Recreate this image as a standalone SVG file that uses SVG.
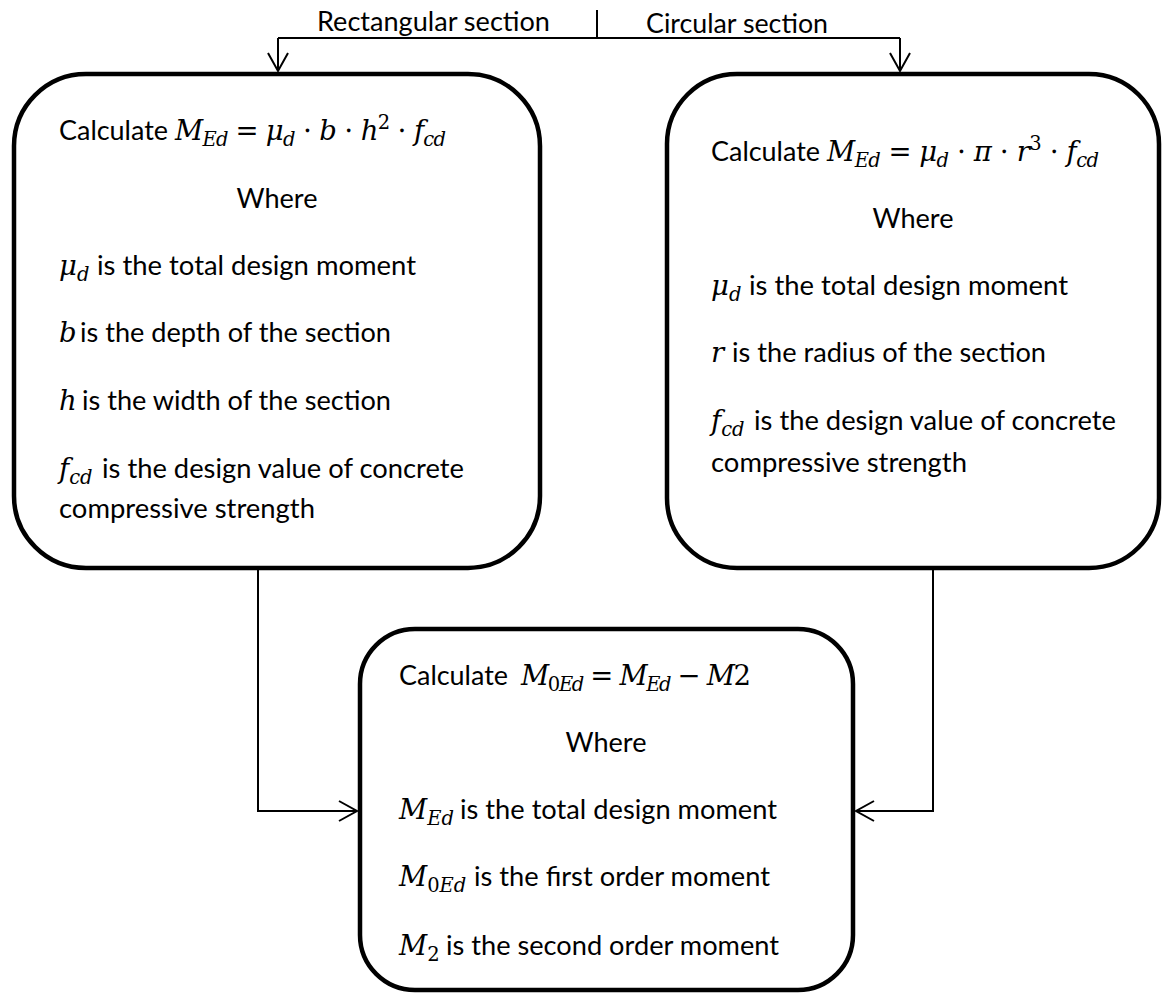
<svg xmlns="http://www.w3.org/2000/svg" width="1163" height="994" viewBox="0 0 1163 994">
  <style>
    .box { fill: #ffffff; stroke: #000000; stroke-width: 4.5; }
    .wire { fill: none; stroke: #000000; stroke-width: 2; }
    .t { font-family: Lato, "Liberation Sans", sans-serif; font-size: 27px; fill: #000000; }
    .m { font-family: "DejaVu Serif", "Liberation Serif", serif; font-style: italic; font-size: 27.5px; fill: #000000; }
    .u { font-style: normal; }
    .s { font-size: 19.5px; }
  </style>
  <defs>
    <marker id="open-arrow" markerUnits="userSpaceOnUse" markerWidth="22" markerHeight="24" refX="19" refY="11" orient="auto">
      <path d="M1,1 L19,11 L1,21" fill="none" stroke="#000000" stroke-width="2"/>
    </marker>
  </defs>

  <rect width="1163" height="994" fill="#ffffff"/>

  <!-- connectors -->
  <g id="connectors">
    <path class="wire" d="M597,10 V38"/>
    <path class="wire" d="M278,38 H900"/>
    <path class="wire" d="M278,38 V71" marker-end="url(#open-arrow)"/>
    <path class="wire" d="M900,38 V71" marker-end="url(#open-arrow)"/>
    <path class="wire" d="M258,568 V811 H357" marker-end="url(#open-arrow)"/>
    <path class="wire" d="M933,568 V811 H856" marker-end="url(#open-arrow)"/>
    <text class="t" x="317" y="31" textLength="233" lengthAdjust="spacingAndGlyphs">Rectangular section</text>
    <text class="t" x="646" y="33" textLength="182" lengthAdjust="spacingAndGlyphs">Circular section</text>
  </g>

  <!-- rectangular section -->
  <g id="node-rectangular">
    <rect class="box" x="14" y="74" width="526" height="494" rx="72" ry="72"/>
    <text class="t" x="59" y="140" textLength="109" lengthAdjust="spacingAndGlyphs">Calculate</text>
    <text class="m" x="175" y="140" textLength="271" lengthAdjust="spacing">M<tspan class="s" dy="6">Ed</tspan><tspan class="u" dy="-6"> = </tspan>μ<tspan class="s" dy="6">d</tspan><tspan class="u" dy="-6"> ⋅ </tspan>b<tspan class="u"> ⋅ </tspan>h<tspan class="u s" dy="-11">2</tspan><tspan class="u" dy="11"> ⋅ </tspan>f<tspan class="s" dy="6">cd</tspan></text>
    <text class="t" x="277" y="208" text-anchor="middle" textLength="81" lengthAdjust="spacingAndGlyphs">Where</text>
    <text class="m" x="59" y="275">μ<tspan class="s" dy="6">d</tspan></text>
    <text class="t" x="97" y="275" textLength="319" lengthAdjust="spacingAndGlyphs">is the total design moment</text>
    <text class="m" x="59" y="342">b</text>
    <text class="t" x="80" y="342" textLength="311" lengthAdjust="spacingAndGlyphs">is the depth of the section</text>
    <text class="m" x="59" y="410">h</text>
    <text class="t" x="82" y="410" textLength="309" lengthAdjust="spacingAndGlyphs">is the width of the section</text>
    <text class="m" x="59" y="478">f<tspan class="s" dy="6">cd</tspan></text>
    <text class="t" x="102" y="478" textLength="362" lengthAdjust="spacingAndGlyphs">is the design value of concrete</text>
    <text class="t" x="59" y="518" textLength="256" lengthAdjust="spacingAndGlyphs">compressive strength</text>
  </g>

  <!-- circular section -->
  <g id="node-circular">
    <rect class="box" x="667" y="74" width="492" height="494" rx="70" ry="70"/>
    <text class="t" x="711" y="161" textLength="109" lengthAdjust="spacingAndGlyphs">Calculate</text>
    <text class="m" x="827" y="161" textLength="272" lengthAdjust="spacing">M<tspan class="s" dy="6">Ed</tspan><tspan class="u" dy="-6"> = </tspan>μ<tspan class="s" dy="6">d</tspan><tspan class="u" dy="-6"> ⋅ </tspan>π<tspan class="u"> ⋅ </tspan>r<tspan class="u s" dy="-11">3</tspan><tspan class="u" dy="11"> ⋅ </tspan>f<tspan class="s" dy="6">cd</tspan></text>
    <text class="t" x="913" y="228" text-anchor="middle" textLength="81" lengthAdjust="spacingAndGlyphs">Where</text>
    <text class="m" x="711" y="295">μ<tspan class="s" dy="6">d</tspan></text>
    <text class="t" x="749" y="295" textLength="319" lengthAdjust="spacingAndGlyphs">is the total design moment</text>
    <text class="m" x="711" y="362">r</text>
    <text class="t" x="732" y="362" textLength="314" lengthAdjust="spacingAndGlyphs">is the radius of the section</text>
    <text class="m" x="711" y="430">f<tspan class="s" dy="6">cd</tspan></text>
    <text class="t" x="754" y="430" textLength="362" lengthAdjust="spacingAndGlyphs">is the design value of concrete</text>
    <text class="t" x="711" y="472" textLength="256" lengthAdjust="spacingAndGlyphs">compressive strength</text>
  </g>

  <!-- moment combination -->
  <g id="node-moment">
    <rect class="box" x="360" y="629" width="493" height="361" rx="55" ry="55"/>
    <text class="t" x="399" y="685" textLength="109" lengthAdjust="spacingAndGlyphs">Calculate</text>
    <text class="m" x="521" y="685" textLength="230" lengthAdjust="spacing">M<tspan class="s" dy="6"><tspan class="u">0</tspan>Ed</tspan><tspan class="u" dy="-6"> = </tspan>M<tspan class="s" dy="6">Ed</tspan><tspan class="u" dy="-6"> − </tspan>M<tspan class="u">2</tspan></text>
    <text class="t" x="606" y="752" text-anchor="middle" textLength="81" lengthAdjust="spacingAndGlyphs">Where</text>
    <text class="m" x="399" y="819">M<tspan class="s" dy="6">Ed</tspan></text>
    <text class="t" x="460" y="819" textLength="317" lengthAdjust="spacingAndGlyphs">is the total design moment</text>
    <text class="m" x="399" y="886">M<tspan class="s" dy="6"><tspan class="u">0</tspan>Ed</tspan></text>
    <text class="t" x="474" y="886" textLength="296" lengthAdjust="spacingAndGlyphs">is the first order moment</text>
    <text class="m" x="399" y="955">M<tspan class="s u" dy="6">2</tspan></text>
    <text class="t" x="446" y="955" textLength="333" lengthAdjust="spacingAndGlyphs">is the second order moment</text>
  </g>
</svg>
